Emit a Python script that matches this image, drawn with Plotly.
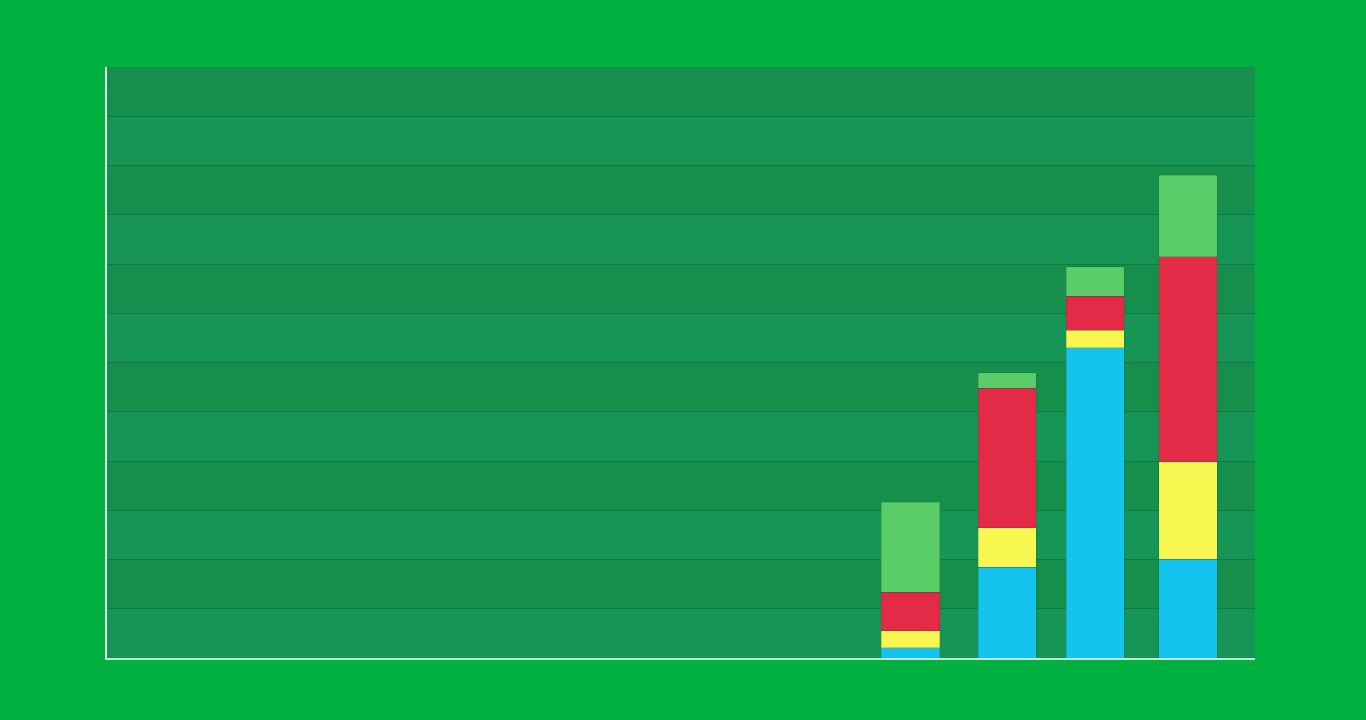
import plotly.graph_objs as go

# positions of the bars along a numeric x axis
x_pos = [8.4, 9.41, 10.33, 11.3]

# stacked segments, bottom to top
blue_vals = [0.21, 1.84, 6.30, 2.01]
yellow_vals = [0.34, 0.80, 0.35, 1.97]
red_vals = [0.79, 2.84, 0.70, 4.17]
green_vals = [1.82, 0.31, 0.59, 1.65]

band_count = 12

series = [
    ("blue", blue_vals, "#14c4ee"),
    ("yellow", yellow_vals, "#f8f752"),
    ("red", red_vals, "#e32b48"),
    ("green", green_vals, "#5bcd68"),
]


def build_figure():
    fig = go.Figure()
    for name, vals, color in series:
        fig.add_trace(go.Bar(
            x=x_pos, y=vals, name=name, width=0.61,
            marker=dict(color=color, line=dict(width=0.6, color="rgba(0,80,40,0.35)")),
        ))

    # darker alternating bands behind the grid
    for i in range(1, band_count, 2):
        fig.add_shape(type="rect", xref="paper", yref="y", x0=0, x1=1,
                      y0=i, y1=i + 1, fillcolor="#158f4b", line_width=0,
                      layer="below")

    fig.update_layout(
        barmode="stack",
        showlegend=False,
        margin=dict(l=107, r=111, t=67, b=62),
        paper_bgcolor="#00b13f",
        plot_bgcolor="#169556",
        xaxis=dict(range=[0, 12], showgrid=False, zeroline=False,
                   showticklabels=False, showline=True,
                   linecolor="#bfe9d4", linewidth=2),
        yaxis=dict(range=[0, band_count], dtick=1, showgrid=True,
                   gridcolor="#107a40", gridwidth=1.2, zeroline=False,
                   showticklabels=False, showline=True,
                   linecolor="#d8f4e6", linewidth=2),
    )
    return fig


if __name__ == "__main__":
    fig = build_figure()
    fig.write_html("out.html", default_width="100vw", default_height="100vh",
                   config={"displayModeBar": False},
                   post_script="document.body.style.margin='0';"
                               "window.dispatchEvent(new Event('resize'));")
